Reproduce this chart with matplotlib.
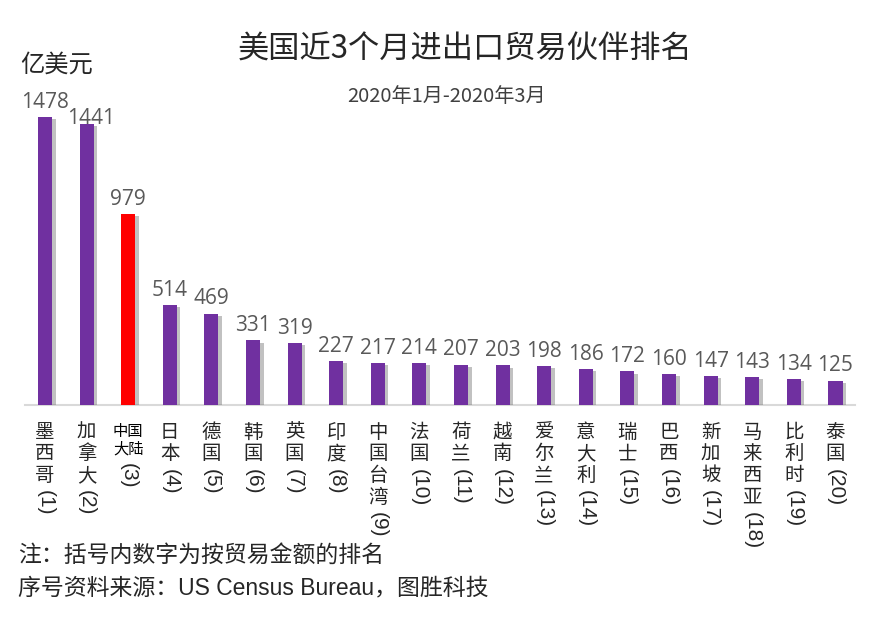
import matplotlib
matplotlib.use("Agg")
import matplotlib.pyplot as plt
import matplotlib.patheffects as pe

plt.rcParams['font.family'] = ['Noto Sans CJK SC', 'DejaVu Sans']

names = ["墨西哥", "加拿大", "中国大陆", "日本", "德国", "韩国", "英国", "印度", "中国台湾", "法国",
         "荷兰", "越南", "爱尔兰", "意大利", "瑞士", "巴西", "新加坡", "马来西亚", "比利时", "泰国"]
ranks = ["(1)", "(2)", "(3)", "(4)", "(5)", "(6)", "(7)", "(8)", "(9)", "(10)",
         "(11)", "(12)", "(13)", "(14)", "(15)", "(16)", "(17)", "(18)", "(19)", "(20)"]
values = [1478, 1441, 979, 514, 469, 331, 319, 227, 217, 214,
          207, 203, 198, 186, 172, 160, 147, 143, 134, 125]
highlight = "中国大陆"

title = "美国近3个月进出口贸易伙伴排名"
subtitle = "2020年1月-2020年3月"
unit = "亿美元"
note1 = "注：括号内数字为按贸易金额的排名"
note2 = "序号资料来源：US Census Bureau，图胜科技"

purple = "#7030A0"
red = "#FF0000"

fig = plt.figure(figsize=(8.74, 6.3), dpi=100)
ax = fig.add_axes([25/874, 225/630, 830/874, 345/630])
x = list(range(len(names)))
colors = [red if n == highlight else purple for n in names]
bars = ax.bar(x, values, width=0.34, color=colors, zorder=3)
for b in bars:
    b.set_path_effects([pe.SimplePatchShadow(offset=(2.5, -1.5), shadow_rgbFace='#666666', alpha=0.4),
                        pe.Normal()])

ax.set_xlim(-0.48, 19.47)
ax.set_ylim(0, 1770)
for s in ['top', 'left', 'right']:
    ax.spines[s].set_visible(False)
ax.spines['bottom'].set_color('#D9D9D9')
ax.spines['bottom'].set_linewidth(1.5)
ax.set_xticks([])
ax.set_yticks([])

for i, (xi, v) in enumerate(zip(x, values)):
    # second label nudged like in the reference to clear the first one
    dx, dy = (3, -3.5) if i == 1 else (0, 3)
    ax.annotate(str(v), xy=(xi, v), xytext=(dx, dy), textcoords='offset points',
                ha='center', va='bottom', fontsize=15, color='#595959',
                family=['Open Sans', 'DejaVu Sans'])

tr = ax.get_xaxis_transform()
latin = ['Liberation Sans', 'DejaVu Sans']
for xi, n, r in zip(x, names, ranks):
    if n == highlight:
        t = ax.annotate(n[:2] + "\n" + n[2:], xy=(xi, 0), xycoords=tr, xytext=(0, -13),
                        textcoords='offset points', ha='center', va='top', fontsize=11,
                        color='black', linespacing=1.0)
        ax.annotate(r, xy=(0.5, 0), xycoords=t, xytext=(0, -4),
                    textcoords='offset points', ha='center', va='top', fontsize=15,
                    color='#262626', rotation=-90, family=latin)
        continue
    t = ax.annotate("\n".join(n), xy=(xi, 0), xycoords=tr, xytext=(0, -12),
                    textcoords='offset points', ha='center', va='top', fontsize=14,
                    color='#262626', linespacing=1.05)
    ax.annotate(r, xy=(0.5, 0), xycoords=t, xytext=(0, -3),
                textcoords='offset points', ha='center', va='top', fontsize=15,
                color='#262626', rotation=-90, family=latin)

fig.text(465/874, 1 - 50/630, title, ha='center', va='center', fontsize=22.5, color='#262626')
fig.text(447/874, 1 - 97/630, subtitle, ha='center', va='center', fontsize=14.5, color='#404040')
fig.text(20/874, 1 - 65/630, unit, ha='left', va='center', fontsize=17.5, color='#262626')
fig.text(18/874, 1 - 555/630, note1, ha='left', va='center', fontsize=16.5, color='#262626')
fig.text(18/874, 1 - 588/630, note2, ha='left', va='center', fontsize=16.5, color='#262626',
         family=['Liberation Sans', 'Noto Sans CJK SC'])

fig.savefig("out.png", dpi=100)
